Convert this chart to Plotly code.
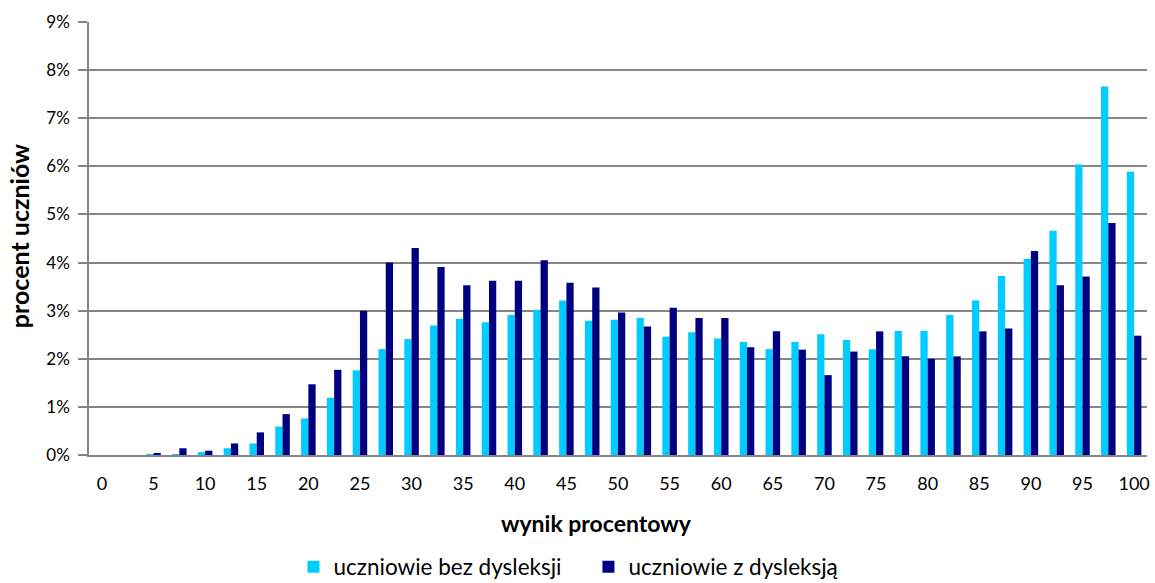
import plotly.graph_objects as go

categories = [0, 2.5, 5, 7.5, 10, 12.5, 15, 17.5, 20, 22.5, 25, 27.5, 30, 32.5, 35, 37.5,
              40, 42.5, 45, 47.5, 50, 52.5, 55, 57.5, 60, 62.5, 65, 67.5, 70, 72.5, 75,
              77.5, 80, 82.5, 85, 87.5, 90, 92.5, 95, 97.5, 100]

bez_dysleksji = [0.0, 0.0, 0.01, 0.02, 0.06, 0.14, 0.24, 0.59, 0.76, 1.19, 1.76, 2.20, 2.41,
                 2.69, 2.83, 2.76, 2.91, 3.02, 3.21, 2.79, 2.81, 2.85, 2.46, 2.55, 2.42, 2.35,
                 2.20, 2.35, 2.51, 2.39, 2.20, 2.58, 2.58, 2.91, 3.21, 3.72, 4.08, 4.66, 6.04,
                 7.66, 5.89]

z_dysleksja = [0.0, 0.0, 0.04, 0.14, 0.09, 0.24, 0.47, 0.85, 1.47, 1.77, 3.00, 4.00, 4.30,
               3.91, 3.53, 3.62, 3.62, 4.05, 3.58, 3.48, 2.96, 2.67, 3.06, 2.85, 2.85, 2.24,
               2.57, 2.19, 1.66, 2.15, 2.57, 2.05, 2.00, 2.05, 2.57, 2.63, 4.24, 3.53, 3.71,
               4.82, 2.48]

tick_vals = [0, 5, 10, 15, 20, 25, 30, 35, 40, 45, 50, 55, 60, 65, 70, 75, 80, 85, 90, 95, 100]
y_ticks = [0, 1, 2, 3, 4, 5, 6, 7, 8, 9]

FONT = "Lato"

W, H = 1155, 583
L, R, T, B = 89, 5, 22, 128
PH = H - T - B
PW = W - L - R

fig = go.Figure()
fig.add_trace(go.Bar(x=categories, y=[v / 100 for v in bez_dysleksji],
                     name="uczniowie bez dysleksji", marker_color="#00CCFF",
                     marker_line=dict(width=0)))
fig.add_trace(go.Bar(x=categories, y=[v / 100 for v in z_dysleksja],
                     name="uczniowie z dysleksją", marker_color="#000080",
                     marker_line=dict(width=0)))

fig.update_layout(
    width=W, height=H,
    margin=dict(l=L, r=R, t=T, b=B),
    paper_bgcolor="white", plot_bgcolor="white",
    barmode="group", bargap=0.436, bargroupgap=0,
    font=dict(family=FONT, size=18, color="#000000"),
    showlegend=True,
    legend=dict(orientation="h", x=0.5095, xanchor="center", xref="container",
                y=1 - 567 / H, yanchor="middle", yref="container",
                font=dict(family=FONT, size=22.5, color="#000000"),
                itemsizing="constant", traceorder="normal", itemwidth=30,
                entrywidth=250, entrywidthmode="pixels"),
    xaxis=dict(range=[-1.25, 101.25], tickmode="array", tickvals=tick_vals,
               ticktext=[str(t) for t in tick_vals], showgrid=False,
               showline=True, linecolor="#868686", linewidth=2, ticks="",
               ticklabelstandoff=11,
               zeroline=False, tickfont=dict(size=18)),
    yaxis=dict(range=[0, 0.09], tickmode="array", tickvals=[t / 100 for t in y_ticks],
               ticktext=[f"{t}%" for t in y_ticks], showgrid=True, gridcolor="#868686",
               gridwidth=1.5, showline=True, linecolor="#868686", linewidth=1.5,
               ticks="outside", ticklen=9, tickcolor="#868686", tickwidth=1.5,
               ticklabelstandoff=5,
               zeroline=False, tickfont=dict(size=17)),
    annotations=[
        dict(text="<b>wynik procentowy</b>", xref="paper", yref="paper", x=(598 - L) / PW,
             y=(455 - 523) / PH, xanchor="center", yanchor="middle", showarrow=False,
             font=dict(family=FONT, size=23)),
        dict(text="<b>procent uczniów</b>", xref="paper", yref="paper",
             x=(19 - L) / PW, y=(455 - 236) / PH, xanchor="center", yanchor="middle",
             textangle=-90, showarrow=False, font=dict(family=FONT, size=25)),
    ],
)

fig.write_html("out.html", config={"displayModeBar": False},
               post_script="document.body.style.margin='0px';")
